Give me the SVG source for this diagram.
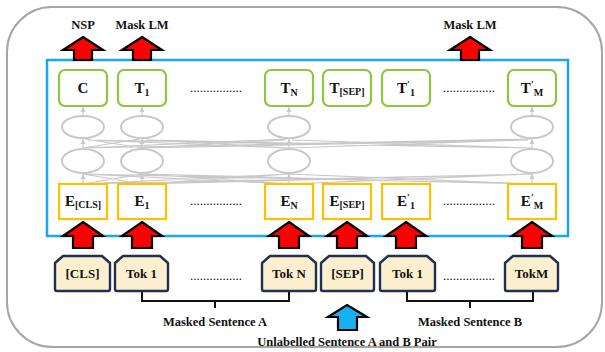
<svg xmlns="http://www.w3.org/2000/svg" width="605" height="352" viewBox="0 0 605 352">
<defs>
<style>
.lbl{font-family:"Liberation Serif","Times New Roman",serif;font-weight:bold;fill:#111}
.t{font-size:12.5px}
.n{font-size:15px}
.s{font-size:10px}
.tok{font-size:13px}
.g{fill:#fff;stroke:#8DC63F;stroke-width:2.2}
.e{fill:#fff;stroke:#FFC000;stroke-width:2.2}
.tk{fill:#FCEFCF;stroke:#1F3050;stroke-width:2.4;stroke-linejoin:round}
.el{fill:none;stroke:#C8C8C8;stroke-width:2}
.ln{stroke:#C8C8C8;stroke-width:1.1;fill:none}
.red{fill:#FF0000;stroke:#000;stroke-width:2.2;stroke-linejoin:miter}
.blu{fill:#1AB0EF;stroke:#000;stroke-width:2.2}
.br{fill:none;stroke:#111;stroke-width:2}
.dots{font-family:"Liberation Serif",serif;font-size:13px;fill:#111}
</style>
<marker id="ah" markerWidth="6" markerHeight="6" refX="5" refY="3" orient="auto" markerUnits="userSpaceOnUse"><path d="M0,0.5 L5,3 L0,5.5 Z" fill="#C8C8C8"/></marker>
</defs>
<rect x="7" y="7" width="595" height="340" rx="45" fill="#fff" stroke="#A6A6A6" stroke-width="2"/>
<rect x="47" y="60" width="521" height="176" fill="none" stroke="#1AA7EC" stroke-width="2.5"/>

<g id="connectors">
<g id="vertical">
<line class="ln" x1="83" y1="184" x2="83" y2="174" marker-end="url(#ah)"/>
<line class="ln" x1="83" y1="149" x2="83" y2="139" marker-end="url(#ah)"/>
<line class="ln" x1="83" y1="116" x2="83" y2="107" marker-end="url(#ah)"/>
<line class="ln" x1="142" y1="184" x2="142" y2="174" marker-end="url(#ah)"/>
<line class="ln" x1="142" y1="149" x2="142" y2="139" marker-end="url(#ah)"/>
<line class="ln" x1="142" y1="116" x2="142" y2="107" marker-end="url(#ah)"/>
<line class="ln" x1="289" y1="184" x2="289" y2="174" marker-end="url(#ah)"/>
<line class="ln" x1="289" y1="149" x2="289" y2="139" marker-end="url(#ah)"/>
<line class="ln" x1="289" y1="116" x2="289" y2="107" marker-end="url(#ah)"/>
<line class="ln" x1="532" y1="184" x2="532" y2="174" marker-end="url(#ah)"/>
<line class="ln" x1="532" y1="149" x2="532" y2="139" marker-end="url(#ah)"/>
<line class="ln" x1="532" y1="116" x2="532" y2="107" marker-end="url(#ah)"/>
</g>
<g id="cross">
<path class="ln" d="M83,184 L142,174 M83,184 L289,174 M83,184 L532,174 M142,184 L83,174 M142,184 L289,174 M142,184 L532,174 M289,184 L83,174 M289,184 L142,174 M289,184 L532,174 M532,184 L83,174 M532,184 L142,174 M532,184 L289,174"/>
<path class="ln" d="M85,139 L142,148 M88,140 L289,148 M90,140 L532,148 M140,139 L83,148 M146,140 L289,148 M148,140 L532,148 M287,139 L83,148 M285,140 L142,148 M292,140 L532,148 M530,139 L83,148 M528,140 L142,148 M526,140 L289,148"/>
</g>
<g id="brackets">
<path class="br" d="M142,292 V301 H289 V292 M215,301 V308"/>
<path class="br" d="M407,292 V301 H533 V292 M470,301 V308"/>
</g>
</g>

<g id="ellipses">
<ellipse class="el" cx="83" cy="127" rx="21" ry="11"/>
<ellipse class="el" cx="142" cy="127" rx="21" ry="11"/>
<ellipse class="el" cx="289" cy="127" rx="21" ry="11"/>
<ellipse class="el" cx="532" cy="127" rx="21" ry="11"/>
<ellipse class="el" cx="83" cy="161" rx="21" ry="12"/>
<ellipse class="el" cx="142" cy="161" rx="21" ry="12"/>
<ellipse class="el" cx="289" cy="161" rx="21" ry="12"/>
<ellipse class="el" cx="532" cy="161" rx="21" ry="12"/>
</g>

<g id="out-C"><rect class="g" x="59" y="70" width="48" height="36" rx="6"/><text class="lbl n" x="83" y="93" text-anchor="middle">C</text></g>
<g id="out-T1"><rect class="g" x="118" y="70" width="48" height="36" rx="6"/><text class="lbl n" x="142" y="93" text-anchor="middle">T<tspan class="s" dy="3">1</tspan></text></g>
<g id="out-TN"><rect class="g" x="265" y="70" width="48" height="36" rx="6"/><text class="lbl n" x="289" y="93" text-anchor="middle">T<tspan class="s" dy="3">N</tspan></text></g>
<g id="out-TSEP"><rect class="g" x="323" y="70" width="48" height="36" rx="6"/><text class="lbl n" x="347" y="93" text-anchor="middle">T<tspan class="s" dy="2">[SEP]</tspan></text></g>
<g id="out-T1p"><rect class="g" x="382" y="70" width="48" height="36" rx="6"/><text class="lbl n" x="406" y="93" text-anchor="middle">T<tspan class="s" dy="-5">′</tspan><tspan class="s" dy="8">1</tspan></text></g>
<g id="out-TMp"><rect class="g" x="508" y="70" width="48" height="36" rx="6"/><text class="lbl n" x="532" y="93" text-anchor="middle">T<tspan class="s" dy="-5">′</tspan><tspan class="s" dy="8">M</tspan></text></g>
<text class="dots" x="216" y="92" text-anchor="middle">................</text>
<text class="dots" x="469" y="92" text-anchor="middle">................</text>

<g id="emb-CLS"><rect class="e" x="59" y="184" width="48" height="35"/><text class="lbl n" x="83" y="206" text-anchor="middle">E<tspan class="s" dy="2">[CLS]</tspan></text></g>
<g id="emb-E1"><rect class="e" x="118" y="184" width="48" height="35"/><text class="lbl n" x="142" y="206" text-anchor="middle">E<tspan class="s" dy="3">1</tspan></text></g>
<g id="emb-EN"><rect class="e" x="265" y="184" width="48" height="35"/><text class="lbl n" x="289" y="206" text-anchor="middle">E<tspan class="s" dy="3">N</tspan></text></g>
<g id="emb-SEP"><rect class="e" x="323" y="184" width="48" height="35"/><text class="lbl n" x="347" y="206" text-anchor="middle">E<tspan class="s" dy="2">[SEP]</tspan></text></g>
<g id="emb-E1p"><rect class="e" x="382" y="184" width="48" height="35"/><text class="lbl n" x="406" y="206" text-anchor="middle">E<tspan class="s" dy="-5">′</tspan><tspan class="s" dy="8">1</tspan></text></g>
<g id="emb-EMp"><rect class="e" x="508" y="184" width="48" height="35"/><text class="lbl n" x="532" y="206" text-anchor="middle">E<tspan class="s" dy="-5">′</tspan><tspan class="s" dy="8">M</tspan></text></g>
<text class="dots" x="216" y="205" text-anchor="middle">................</text>
<text class="dots" x="469" y="205" text-anchor="middle">................</text>

<g id="arrows">
<polygon class="red" points="83,37 103,50 92,50 92,60 74,60 74,50 63,50"/>
<polygon class="red" points="142,37 162,50 151,50 151,60 133,60 133,50 122,50"/>
<polygon class="red" points="470,37 490,50 479,50 479,60 461,60 461,50 450,50"/>
<polygon class="red" points="83,222 103,236 93,236 93,248 73,248 73,236 63,236"/>
<polygon class="red" points="142,222 162,236 152,236 152,248 132,248 132,236 122,236"/>
<polygon class="red" points="289,222 309,236 299,236 299,248 279,248 279,236 269,236"/>
<polygon class="red" points="347,222 367,236 357,236 357,248 337,248 337,236 327,236"/>
<polygon class="red" points="406,222 426,236 416,236 416,248 396,248 396,236 386,236"/>
<polygon class="red" points="532,222 552,236 542,236 542,248 522,248 522,236 512,236"/>
<polygon class="blu" points="347,305 367,317 357,317 357,330 338,330 338,317 328,317"/>
</g>

<g id="tok-CLS"><path class="tk" d="M63,256 H102 L110,263 V289 Q110,291 108,291 H57 Q55,291 55,289 V263 Z"/><text class="lbl tok" x="82.5" y="278" text-anchor="middle">[CLS]</text></g>
<g id="tok-A1"><path class="tk" d="M123,256 H160 L168,263 V289 Q168,291 166,291 H117 Q115,291 115,289 V263 Z"/><text class="lbl tok" x="141.5" y="278" text-anchor="middle">Tok 1</text></g>
<g id="tok-AN"><path class="tk" d="M270,256 H308 L316,263 V289 Q316,291 314,291 H264 Q262,291 262,289 V263 Z"/><text class="lbl tok" x="289" y="278" text-anchor="middle">Tok N</text></g>
<g id="tok-SEP"><path class="tk" d="M329,256 H366 L374,263 V289 Q374,291 372,291 H323 Q321,291 321,289 V263 Z"/><text class="lbl tok" x="347.5" y="278" text-anchor="middle">[SEP]</text></g>
<g id="tok-B1"><path class="tk" d="M388,256 H427 L435,263 V289 Q435,291 433,291 H382 Q380,291 380,289 V263 Z"/><text class="lbl tok" x="407.5" y="278" text-anchor="middle">Tok 1</text></g>
<g id="tok-BM"><path class="tk" d="M513,256 H550 L558,263 V289 Q558,291 556,291 H507 Q505,291 505,289 V263 Z"/><text class="lbl tok" x="531.5" y="278" text-anchor="middle">TokM</text></g>
<text class="dots" x="216" y="280" text-anchor="middle">................</text>
<text class="dots" x="469" y="280" text-anchor="middle">................</text>

<text class="lbl t" x="83" y="29" text-anchor="middle">NSP</text>
<text class="lbl t" x="142" y="29" text-anchor="middle">Mask LM</text>
<text class="lbl t" x="470" y="29" text-anchor="middle">Mask LM</text>
<text class="lbl t" x="215" y="326" text-anchor="middle">Masked Sentence A</text>
<text class="lbl t" x="470" y="326" text-anchor="middle">Masked Sentence B</text>
<text class="lbl t" x="347" y="346" text-anchor="middle">Unlabelled Sentence A and B Pair</text>
</svg>
